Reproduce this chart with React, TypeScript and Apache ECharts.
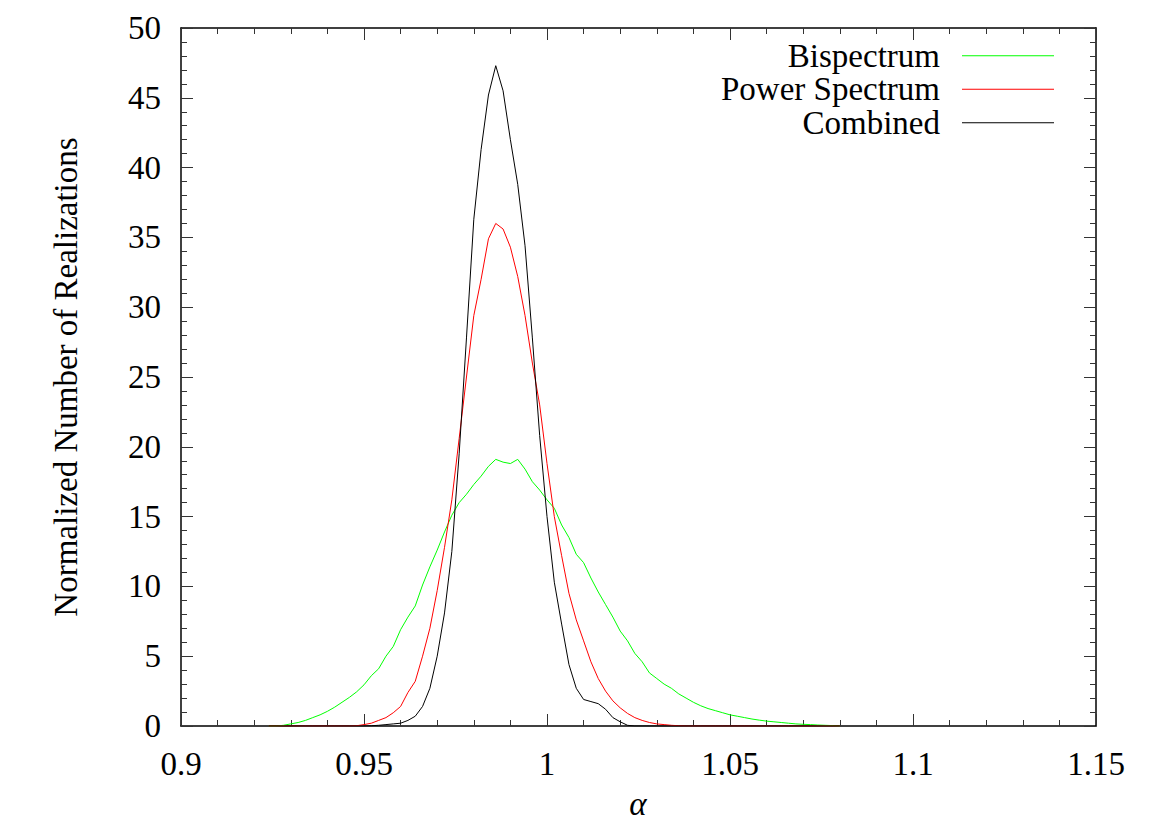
import React, { useEffect, useRef } from "react";
import * as echarts from "echarts";

// Bin centres (alpha)
const alphaBins: number[] = [
  0.924, 0.926, 0.928, 0.930, 0.932, 0.934, 0.936, 0.938, 0.940, 0.942,
  0.944, 0.946, 0.948, 0.950, 0.952, 0.954, 0.956, 0.958, 0.960, 0.962,
  0.964, 0.966, 0.968, 0.970, 0.972, 0.974, 0.976, 0.978, 0.980, 0.982,
  0.984, 0.986, 0.988, 0.990, 0.992, 0.994, 0.996, 0.998,
  1.000, 1.002, 1.004, 1.006, 1.008, 1.010, 1.012, 1.014, 1.016, 1.018,
  1.020, 1.022, 1.024, 1.026, 1.028, 1.030, 1.032, 1.034, 1.036, 1.038,
  1.040, 1.042, 1.044, 1.046, 1.048, 1.050, 1.052, 1.054, 1.056, 1.058,
  1.060, 1.062, 1.064, 1.066, 1.068, 1.070, 1.072, 1.074, 1.076, 1.078,
  1.080,
];

const bispectrum: number[] = [
  0, 0, 0.05, 0.15, 0.25, 0.4, 0.6, 0.8, 1.05, 1.35,
  1.7, 2.05, 2.45, 2.95, 3.6, 4.1, 5.0, 5.7, 6.9, 7.8,
  8.6, 10.1, 11.4, 12.6, 13.9, 15.1, 16.0, 16.6, 17.3, 17.9,
  18.6, 19.1, 18.9, 18.8, 19.1, 18.4, 17.5, 16.9,
  16.2, 15.6, 14.4, 13.5, 12.3, 11.7, 10.6, 9.6, 8.7, 7.8,
  6.8, 6.1, 5.2, 4.6, 3.8, 3.4, 3.0, 2.7, 2.3, 2.0,
  1.7, 1.45, 1.25, 1.1, 0.95, 0.8, 0.7, 0.6, 0.5, 0.42,
  0.35, 0.3, 0.25, 0.2, 0.15, 0.12, 0.1, 0.07, 0.05, 0.03,
  0,
];

const powerSpectrum: number[] = [
  0, 0, 0, 0, 0, 0, 0, 0, 0, 0,
  0, 0, 0.02, 0.1, 0.2, 0.4, 0.6, 0.95, 1.4, 2.4,
  3.2, 5.0, 7.0, 9.7, 12.8, 16.2, 20.6, 25.0, 29.4, 32.0,
  34.9, 36.0, 35.6, 34.3, 32.2, 29.4, 26.0, 23.0,
  18.8, 15.0, 12.2, 9.5, 7.6, 6.1, 4.6, 3.4, 2.5, 1.8,
  1.3, 0.9, 0.6, 0.4, 0.25, 0.15, 0.1, 0.05, 0.02, 0,
  0, 0, 0, 0, 0, 0, 0, 0, 0, 0,
  0, 0, 0, 0, 0, 0, 0, 0, 0, 0,
  0,
];

const combined: number[] = [
  0, 0, 0, 0, 0, 0, 0, 0, 0, 0,
  0, 0, 0, 0, 0.02, 0.05, 0.1, 0.15, 0.2, 0.4,
  0.7, 1.4, 2.7, 5.0, 8.1, 12.5, 19.5, 27.8, 36.3, 41.3,
  45.2, 47.3, 45.5, 42.0, 38.8, 34.4, 27.8, 20.8,
  15.0, 10.3, 7.3, 4.4, 2.7, 1.9, 1.75, 1.6, 1.2, 0.6,
  0.3, 0.05, 0, 0, 0, 0, 0, 0, 0, 0,
  0, 0, 0, 0, 0, 0, 0, 0, 0, 0,
  0, 0, 0, 0, 0, 0, 0, 0, 0, 0,
  0,
];

const seriesNames = ["Bispectrum", "Power Spectrum", "Combined"];
const seriesColors = ["#00ff00", "#ff0000", "#000000"];
const seriesValues = [bispectrum, powerSpectrum, combined];

const xTicks = { min: 0.9, max: 1.15, interval: 0.05 };
const yTicks = { min: 0, max: 50, interval: 5 };

const xTitle = "α";
const yTitle = "Normalized Number of Realizations";

const FONT = "Liberation Serif";

export default function App() {
  const ref = useRef<HTMLDivElement>(null);
  useEffect(() => {
    if (!ref.current) return;
    const chart = echarts.init(ref.current, null, { renderer: "svg" });

    const axisCommon = {
      axisLine: { show: true, onZero: false, lineStyle: { color: "#000", width: 1.5 } },
      axisTick: { show: true, inside: true, length: 12, lineStyle: { color: "#333", width: 1 } },
      minorTick: { show: true, splitNumber: 5, length: 6, lineStyle: { color: "#333", width: 1 } },
      splitLine: { show: false },
    };

    const xBase = {
      type: "value",
      min: xTicks.min,
      max: xTicks.max,
      interval: xTicks.interval,
      ...axisCommon,
    };
    const yBase = {
      type: "value",
      min: yTicks.min,
      max: yTicks.max,
      interval: yTicks.interval,
      ...axisCommon,
    };

    chart.setOption({
      animation: false,
      backgroundColor: "#ffffff",
      textStyle: { fontFamily: FONT },
      grid: { left: 181, right: 73, top: 28, bottom: 98, containLabel: false },
      legend: {
        orient: "vertical",
        align: "right",
        right: 110,
        top: 34,
        icon: "rect",
        itemWidth: 92,
        itemHeight: 1.2,
        itemGap: 0,
        data: seriesNames,
        textStyle: {
          fontFamily: FONT,
          fontSize: 33,
          color: "#000",
          lineHeight: 33.5,
          padding: [0, 17, 0, 0],
        },
      },
      graphic: [
        {
          type: "text",
          x: 66,
          y: 377,
          rotation: Math.PI / 2,
          silent: true,
          style: {
            text: yTitle,
            fontFamily: FONT,
            fontSize: 33,
            fill: "#000",
            textAlign: "center",
            textVerticalAlign: "middle",
          },
        },
        {
          type: "text",
          x: 638,
          y: 804,
          silent: true,
          style: {
            text: xTitle,
            fontFamily: FONT,
            fontStyle: "italic",
            fontSize: 33,
            fill: "#000",
            textAlign: "center",
            textVerticalAlign: "middle",
          },
        },
      ],
      xAxis: [
        {
          ...xBase,
          position: "bottom",
          axisLabel: {
            fontFamily: FONT,
            fontSize: 33,
            color: "#000",
            margin: 21,
            formatter: (v: number) => String(parseFloat(v.toFixed(4))),
          },
        },
        {
          ...xBase,
          position: "top",
          axisLabel: { show: false },
        },
      ],
      yAxis: [
        {
          ...yBase,
          position: "left",
          axisLabel: {
            fontFamily: FONT,
            fontSize: 33,
            color: "#000",
            margin: 20,
          },
        },
        {
          ...yBase,
          position: "right",
          axisLabel: { show: false },
        },
      ],
      series: seriesNames.map((name, i) => ({
        name,
        type: "line",
        xAxisIndex: 0,
        yAxisIndex: 0,
        symbol: "none",
        showSymbol: false,
        color: seriesColors[i],
        itemStyle: { color: seriesColors[i] },
        lineStyle: { color: seriesColors[i], width: 1 },
        data: alphaBins.map((a, j) => [a, seriesValues[i][j]]),
      })),
    });

    return () => chart.dispose();
  }, []);

  return (
    <div
      ref={ref}
      style={{ position: "absolute", left: 0, top: 0, width: 1169, height: 824 }}
    />
  );
}
